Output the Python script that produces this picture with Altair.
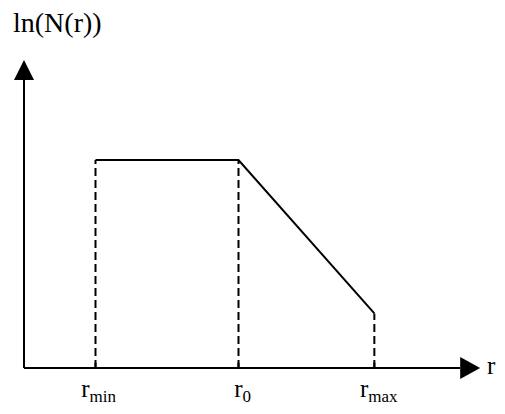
import altair as alt
import pandas as pd

# ---- data ----
r_subscripts = ["min", "0", "max"]          # r_min, r_0, r_max
r_positions = [1.0, 3.0, 4.9]               # position along the r axis
lnN_values = [4.0, 4.0, 1.05]               # ln(N(r)) at those positions
y_axis_title = "ln(N(r))"
x_axis_title = "r"

# axis extents (data units)
x_axis_end, x_arrow_pos = 6.10, 6.24
y_axis_end, y_arrow_pos = 5.54, 5.73

W, H = 489, 398
PX_X, PX_Y = 71.5, 52.0   # pixels per data unit
xs = alt.Scale(domain=[-16 / PX_X, -16 / PX_X + W / PX_X], nice=False, zero=False)
ys = alt.Scale(domain=[-38 / PX_Y, -38 / PX_Y + H / PX_Y], nice=False, zero=False)

curve = pd.DataFrame({"r": r_positions, "v": lnN_values, "sub": r_subscripts})
axes = pd.DataFrame({"x": [0, 0], "y": [0, 0], "x2": [x_axis_end, 0], "y2": [0, y_axis_end]})

def X(f):
    return alt.X(f, type="quantitative", scale=xs, axis=None)

def Y(f):
    return alt.Y(f, type="quantitative", scale=ys, axis=None)

axis_lines = alt.Chart(axes).mark_rule(color="black", strokeWidth=2).encode(
    x=X("x"), y=Y("y"), x2="x2", y2="y2"
)

up_arrow = alt.Chart(pd.DataFrame({"x": [0], "y": [y_arrow_pos]})).mark_point(
    shape="M0,-1L1,1L-1,1Z", filled=True, size=400, color="black", opacity=1, strokeWidth=0
).encode(x=X("x"), y=Y("y"))

right_arrow = alt.Chart(pd.DataFrame({"x": [x_arrow_pos], "y": [0]})).mark_point(
    shape="M1,0L-1,-1.1L-1,1.1Z", filled=True, size=400, color="black", opacity=1, strokeWidth=0
).encode(x=X("x"), y=Y("y"))

base = alt.Chart(curve)

ticks = base.mark_rule(color="black", strokeWidth=2).transform_calculate(
    t="0.1", z="0"
).encode(x=X("r"), y=Y("z:Q"), y2="t:Q")

dashed = base.mark_rule(color="black", strokeWidth=2, strokeDash=[8, 4]).transform_calculate(
    z="0"
).encode(x=X("r"), y=Y("z:Q"), y2="v")

line = base.mark_line(color="black", strokeWidth=2).encode(x=X("r"), y=Y("v"))

lab = base.transform_calculate(
    rx="datum.r + (9 - 5 * length(datum.sub)) / 71.5",
    ym="-29 / 52",
    ys="-34 / 52",
)
r_main = lab.mark_text(
    text="r", align="right", baseline="alphabetic", font="Liberation Serif", fontSize=25, color="black"
).encode(x=X("rx:Q"), y=Y("ym:Q"))
r_sub = lab.mark_text(
    align="left", baseline="alphabetic", font="Liberation Serif", fontSize=17, color="black"
).encode(x=X("rx:Q"), y=Y("ys:Q"), text="sub:N")

titles = pd.DataFrame({
    "x": [-11 / PX_X, 463 / PX_X],
    "y": [336 / PX_Y, -6 / PX_Y],
    "t": [y_axis_title, x_axis_title],
    "s": [28, 25],
})
title_text = alt.Chart(titles).mark_text(
    align="left", baseline="alphabetic", font="Liberation Serif", color="black"
).encode(x=X("x"), y=Y("y"), text="t:N", size=alt.Size("s:Q", scale=None, legend=None))

chart = alt.layer(
    dashed, ticks, axis_lines, line, up_arrow, right_arrow, r_main, r_sub, title_text
).properties(
    width=W, height=H, autosize=alt.AutoSizeParams(type="none"), padding=0
).configure_view(stroke=None)

chart.save("out.html", embed_options={"renderer": "svg", "actions": False})
